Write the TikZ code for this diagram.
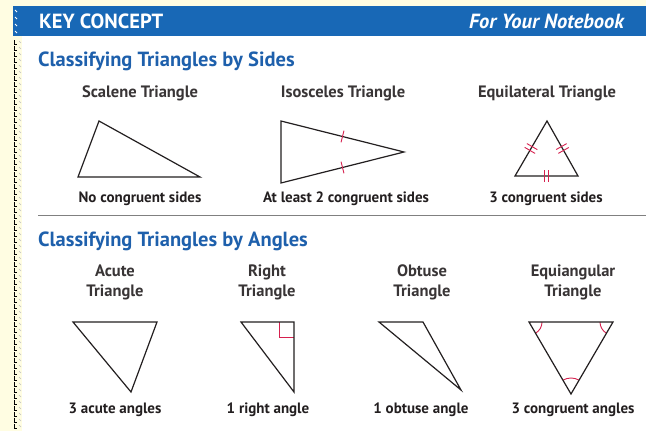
\documentclass[tikz,border=0pt]{standalone}
\usepackage{fontspec}
\setmainfont{PT Sans}
\usepackage{tikz}
\usetikzlibrary{positioning, calc}

\definecolor{barblue}{RGB}{24,104,182}
\definecolor{headblue}{RGB}{30,96,172}
\definecolor{cream}{RGB}{255,253,226}
\definecolor{markred}{RGB}{214,32,78}
\definecolor{inkgray}{RGB}{35,31,32}

\begin{document}
\begin{tikzpicture}[x=1pt, y=-1pt,%
        tri/.style={draw=inkgray, line width=1.2pt, line join=miter},
        tick/.style={draw=markred, line width=0.9pt},
        caption/.style={inner sep=0pt, align=center, text=inkgray!90, font=\fontsize{16.5}{20}\bfseries},
        note/.style={inner sep=0pt, text=inkgray, font=\fontsize{15}{16}\bfseries},
        heading/.style={inner sep=0pt, anchor=west, text=headblue, font=\fontsize{20.5}{22}\bfseries},
        barlabel/.style={inner sep=0pt, text=white, font=\fontsize{20.5}{22}\bfseries}%
    ]
        \useasboundingbox (0,0) rectangle (646,431);
        \fill[cream] (0,0) rectangle (646,431);
        \fill[white] (22,36) rectangle (646,431);
        \fill[barblue] (13,6) rectangle (646,36);

        % binder marks down the left edge
        \foreach \y in {40,46,...,428} {
            \draw[black, line width=0.6pt] (14,\y) -- (14,\y+4) -- (17,\y+4);
            \draw[black!25, line width=0.5pt] (19,\y+1) -- (21,\y+3);
        }
        \foreach \y in {10,17,24,31} {
            \draw[white, line width=0.8pt] (15,\y) -- (17,\y+2);
        }

        \node[barlabel, anchor=west] (key) at (39,21) {KEY CONCEPT};
        \node[barlabel, anchor=east] (book) at (624,21) {\itshape For Your Notebook};

        % sides
        \node[heading] (hsides) at (38,61) {Classifying Triangles by Sides};

        \node[caption] (scal) at (140,93) {Scalene Triangle};
        \node[caption] (isos) at (343,93) {Isosceles Triangle};
        \node[caption] (equi) at (547,93) {Equilateral Triangle};

        \coordinate (scT) at (99,121);
        \coordinate (scL) at (78,177);
        \coordinate (scR) at (200,177);
        \draw[tri] (scT) -- (scL) -- (scR) -- cycle;

        \coordinate (isT) at (281,121);
        \coordinate (isB) at (281,183);
        \coordinate (isR) at (404,152);
        \draw[tri] (isT) -- (isB) -- (isR) -- cycle;
        \foreach \a in {isT, isB} {
            \coordinate (m) at ($(\a)!0.5!(isR)$);
            \draw[tick] ($(m)!6pt!90:(isR)$) -- ($(m)!6pt!-90:(isR)$);
        }

        \coordinate (eqT) at (547,121);
        \coordinate (eqL) at (515,176);
        \coordinate (eqR) at (578,176);
        \draw[tri] (eqT) -- (eqL) -- (eqR) -- cycle;
        \foreach \a/\b in {eqL/eqT, eqT/eqR, eqL/eqR} {
            \coordinate (m) at ($(\a)!0.5!(\b)$);
            \foreach \s in {-2.2pt, 2.2pt} {
                \coordinate (q) at ($(m)!\s!(\b)$);
                \draw[tick] ($(q)!6pt!90:(\b)$) -- ($(q)!6pt!-90:(\b)$);
            }
        }

        \node[note] (nsc) at (140,199) {No congruent sides};
        \node[note] (nis) at (346,199) {At least 2 congruent sides};
        \node[note] (neq) at (546,199) {3 congruent sides};

        \draw[gray, line width=0.8pt] (38,215) -- (646,215);

        % angles
        \node[heading] (hangles) at (38,241) {Classifying Triangles by Angles};

        \node[caption] (acu) at (115,282) {Acute\\Triangle};
        \node[caption] (rig) at (267,282) {Right\\Triangle};
        \node[caption] (obt) at (422,282) {Obtuse\\Triangle};
        \node[caption] (eqa) at (573,282) {Equiangular\\Triangle};

        \coordinate (acL) at (73,322);
        \coordinate (acR) at (157,322);
        \coordinate (acB) at (131,392);
        \draw[tri] (acL) -- (acR) -- (acB) -- cycle;

        \coordinate (riL) at (241,322);
        \coordinate (riR) at (294,322);
        \coordinate (riB) at (294,392);
        \draw[tick] (279,322) -- (279,337) -- (294,337);
        \draw[tri] (riL) -- (riR) -- (riB) -- cycle;

        \coordinate (obL) at (379,322);
        \coordinate (obR) at (423,322);
        \coordinate (obB) at (461,390);
        \draw[tri] (obL) -- (obR) -- (obB) -- cycle;

        \coordinate (eaL) at (529,322);
        \coordinate (eaR) at (613,322);
        \coordinate (eaB) at (571,394);
        \draw[tick] ([shift={(0:13pt)}]eaL) arc[start angle=0, end angle=-60, radius=13pt];
        \draw[tick] ([shift={(180:13pt)}]eaR) arc[start angle=180, end angle=240, radius=13pt];
        \draw[tick] ([shift={(60:16pt)}]eaB) arc[start angle=60, end angle=120, radius=16pt];
        \draw[tri] (eaL) -- (eaR) -- (eaB) -- cycle;

        \node[note] (nac) at (115,410) {3 acute angles};
        \node[note] (nri) at (268,410) {1 right angle};
        \node[note] (nob) at (421,410) {1 obtuse angle};
        \node[note] (nea) at (573,410) {3 congruent angles};
    \end{tikzpicture}
\end{document}
